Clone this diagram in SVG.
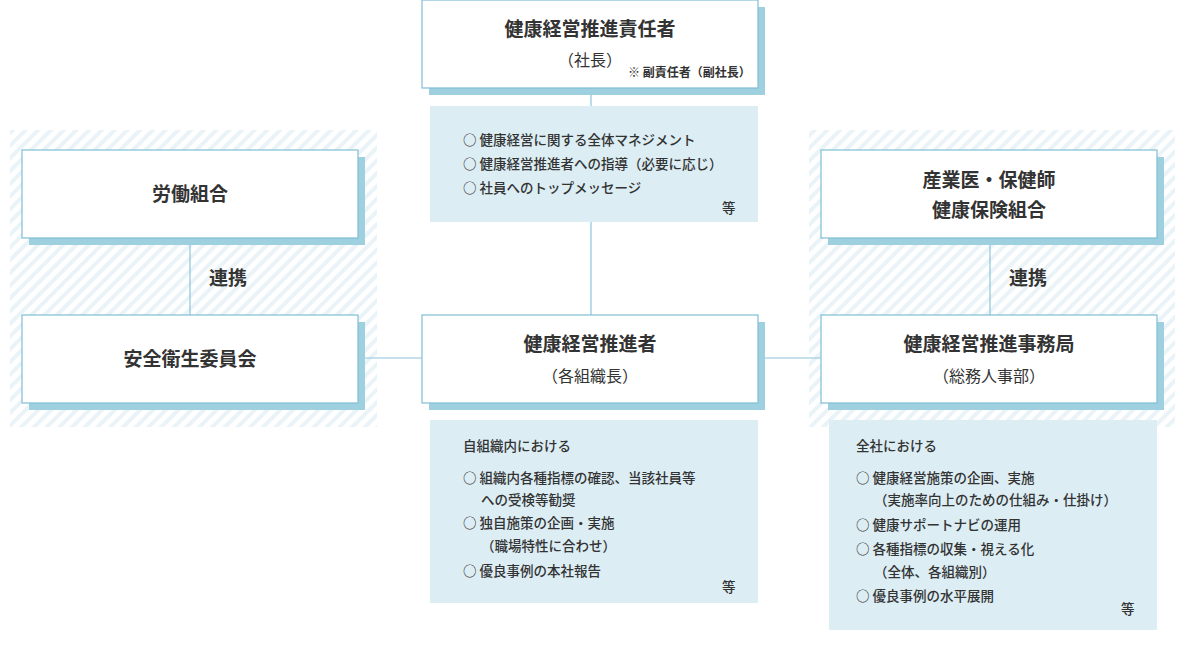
<svg xmlns="http://www.w3.org/2000/svg" width="1180" height="656" viewBox="0 0 1180 656">
<defs>
<pattern id="h" width="9" height="9" patternUnits="userSpaceOnUse" patternTransform="rotate(45)">
<rect width="9" height="9" fill="#fff"/><rect width="4" height="9" fill="#eaf3f7"/>
</pattern>
</defs>
<style>
text{font-family:"Noto Sans CJK JP","Noto Sans",sans-serif;fill:#333}
.t{font-size:19px;font-weight:bold;text-anchor:middle}
.s{font-size:16px;text-anchor:middle}
.l{font-size:13.5px;font-weight:500}
.box{fill:#fff;stroke:#7fbfd4;stroke-width:1.2}
.sh{fill:#9fd0e0}
.info{fill:#dcedf4}
.c{stroke:#8cc6d9;stroke-width:1.2;fill:none}
</style>
<rect x="10" y="130" width="367" height="297" fill="url(#h)"/>
<rect x="809" y="130" width="366" height="297" fill="url(#h)"/>
<g id="connectors">
<path class="c" d="M591 88V106M591 222V315M190 238V315M990 238V315M358 358H422M758 358H821"/>
</g>
<g id="top">
<rect class="sh" x="429" y="7" width="336" height="88"/>
<rect class="box" x="422" y="0" width="336" height="88"/>
<text class="t" x="590" y="36">健康経営推進責任者</text>
<text class="s" x="590" y="66">（社長）</text>
<text x="628" y="77" style="font-size:12px;font-weight:bold">※ 副責任者（副社長）</text>
</g>
<g id="info-top">
<rect class="info" x="430" y="106" width="328" height="116"/>
<text class="l" x="463" y="145">○ 健康経営に関する全体マネジメント</text>
<text class="l" x="463" y="169">○ 健康経営推進者への指導（必要に応じ）</text>
<text class="l" x="463" y="193">○ 社員へのトップメッセージ</text>
<text class="l" x="722" y="213">等</text>
</g>
<g id="union">
<rect class="sh" x="29" y="157" width="336" height="88"/>
<rect class="box" x="22" y="150" width="336" height="88"/>
<text class="t" x="190" y="201">労働組合</text>
</g>
<text class="t" x="228" y="285">連携</text>
<g id="safety">
<rect class="sh" x="29" y="322" width="336" height="88"/>
<rect class="box" x="22" y="315" width="336" height="88"/>
<text class="t" x="190" y="366">安全衛生委員会</text>
</g>
<g id="promoter">
<rect class="sh" x="429" y="322" width="336" height="88"/>
<rect class="box" x="422" y="315" width="336" height="88"/>
<text class="t" x="590" y="351">健康経営推進者</text>
<text class="s" x="590" y="382">（各組織長）</text>
</g>
<g id="doctor">
<rect class="sh" x="828" y="157" width="336" height="88"/>
<rect class="box" x="821" y="150" width="336" height="88"/>
<text class="t" x="989" y="187">産業医・保健師</text>
<text class="t" x="989" y="217">健康保険組合</text>
</g>
<text class="t" x="1028" y="285">連携</text>
<g id="office">
<rect class="sh" x="828" y="322" width="336" height="88"/>
<rect class="box" x="821" y="315" width="336" height="88"/>
<text class="t" x="989" y="351">健康経営推進事務局</text>
<text class="s" x="989" y="382">（総務人事部）</text>
</g>
<g id="info-center">
<rect class="info" x="430" y="420" width="328" height="183"/>
<text class="l" x="463" y="451">自組織内における</text>
<text class="l" x="463" y="483">○ 組織内各種指標の確認、当該社員等</text>
<text class="l" x="481" y="505">への受検等勧奨</text>
<text class="l" x="463" y="528">○ 独自施策の企画・実施</text>
<text class="l" x="481" y="551">（職場特性に合わせ）</text>
<text class="l" x="463" y="576">○ 優良事例の本社報告</text>
<text class="l" x="722" y="592">等</text>
</g>
<g id="info-right">
<rect class="info" x="829" y="420" width="328" height="210"/>
<text class="l" x="856" y="451">全社における</text>
<text class="l" x="856" y="483">○ 健康経営施策の企画、実施</text>
<text class="l" x="874" y="505">（実施率向上のための仕組み・仕掛け）</text>
<text class="l" x="856" y="530">○ 健康サポートナビの運用</text>
<text class="l" x="856" y="554">○ 各種指標の収集・視える化</text>
<text class="l" x="874" y="577">（全体、各組織別）</text>
<text class="l" x="856" y="601">○ 優良事例の水平展開</text>
<text class="l" x="1121" y="614">等</text>
</g>
</svg>
